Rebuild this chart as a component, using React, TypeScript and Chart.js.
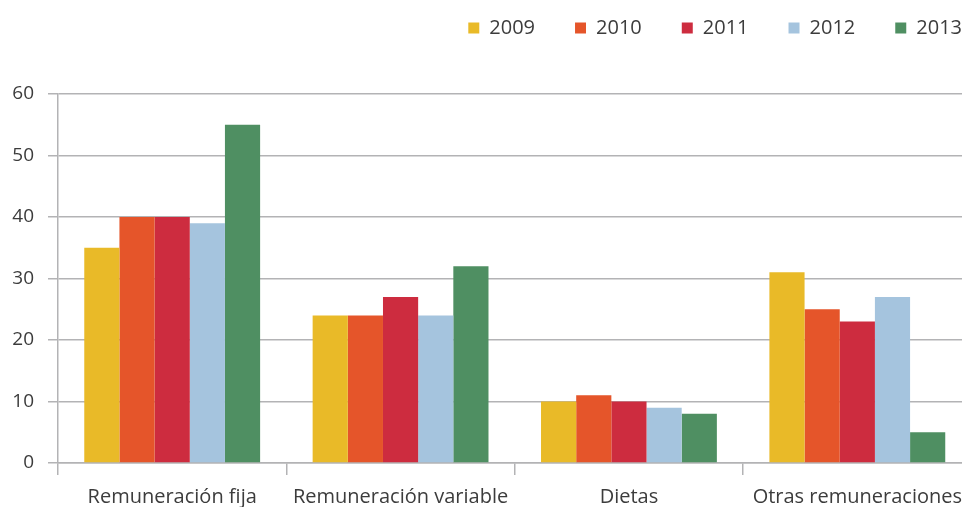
import React, { useEffect, useRef } from 'react';
import { Chart, registerables } from 'chart.js';

Chart.register(...registerables);

const categories = ['Remuneración fija', 'Remuneración variable', 'Dietas', 'Otras remuneraciones'];
const seriesLabels = ['2009', '2010', '2011', '2012', '2013'];
const values2009 = [35, 24, 10, 31];
const values2010 = [40, 24, 11, 25];
const values2011 = [40, 27, 10, 23];
const values2012 = [39, 24, 9, 27];
const values2013 = [55, 32, 8, 5];
const seriesValues = [values2009, values2010, values2011, values2012, values2013];
const seriesColors = ['#E9BA28', '#E5552A', '#CD2C3F', '#A5C4DE', '#4F8F62'];
const yMin = 0;
const yMax = 60;
const yStep = 10;

const FONT = "'Open Sans', 'Noto Sans', sans-serif";
const GRID = '#b3b3b5';
const TEXT = '#3c3c3c';

const legendTweak = {
  id: 'legendTweak',
  afterInit(chart: any) {
    const legend = chart.legend;
    if (!legend) return;
    const orig = legend.fit.bind(legend);
    legend.fit = function () {
      orig();
      this.height = 94;
    };
  },
  afterLayout(chart: any) {
    const legend = chart.legend;
    if (!legend) return;
    legend.top = -22;
    legend.left += 30;
    legend.right += 30;
  },
};

export default function App() {
  const canvasRef = useRef<HTMLCanvasElement | null>(null);

  useEffect(() => {
    if (!canvasRef.current) return;
    const chart = new Chart(canvasRef.current, {
      type: 'bar',
      data: {
        labels: categories,
        datasets: seriesLabels.map((label, i) => ({
          label,
          data: seriesValues[i],
          backgroundColor: seriesColors[i],
          borderWidth: 0,
          categoryPercentage: 0.77,
          barPercentage: 1.0,
        })),
      },
      options: {
        animation: false,
        responsive: true,
        maintainAspectRatio: false,
        plugins: {
          tooltip: { enabled: false },
          legend: {
            position: 'top',
            align: 'end',
            labels: {
              boxWidth: 11,
              boxHeight: 11,
              padding: 40,
              color: TEXT,
              font: { family: FONT, size: 20 },
            },
          },
        },
        scales: {
          x: {
            offset: true,
            grid: {
              offset: true,
              drawOnChartArea: false,
              drawTicks: true,
              tickLength: 12,
              color: GRID,
              lineWidth: 1.5,
            },
            border: { display: true, color: GRID, width: 1.5 },
            ticks: {
              color: TEXT,
              padding: 10,
              font: { family: FONT, size: 20 },
              maxRotation: 0,
              autoSkip: false,
            },
            afterFit: (s: any) => {
              s.height = 44;
            },
          },
          y: {
            min: yMin,
            max: yMax,
            ticks: {
              stepSize: yStep,
              color: TEXT,
              padding: 14,
              font: { family: FONT, size: 19 },
            },
            grid: {
              color: GRID,
              lineWidth: 1.5,
              tickLength: 10,
            },
            border: { display: true, color: GRID, width: 1.5 },
            afterFit: (s: any) => {
              s.width = 58;
            },
          },
        },
      },
      plugins: [legendTweak],
    });
    return () => chart.destroy();
  }, []);

  return (
    <div style={{ position: 'fixed', left: 0, top: 0, width: 962, height: 507, overflow: 'hidden', background: '#fff' }}>
      <div style={{ position: 'relative', width: 972, height: 507 }}>
        <canvas ref={canvasRef} />
      </div>
    </div>
  );
}
